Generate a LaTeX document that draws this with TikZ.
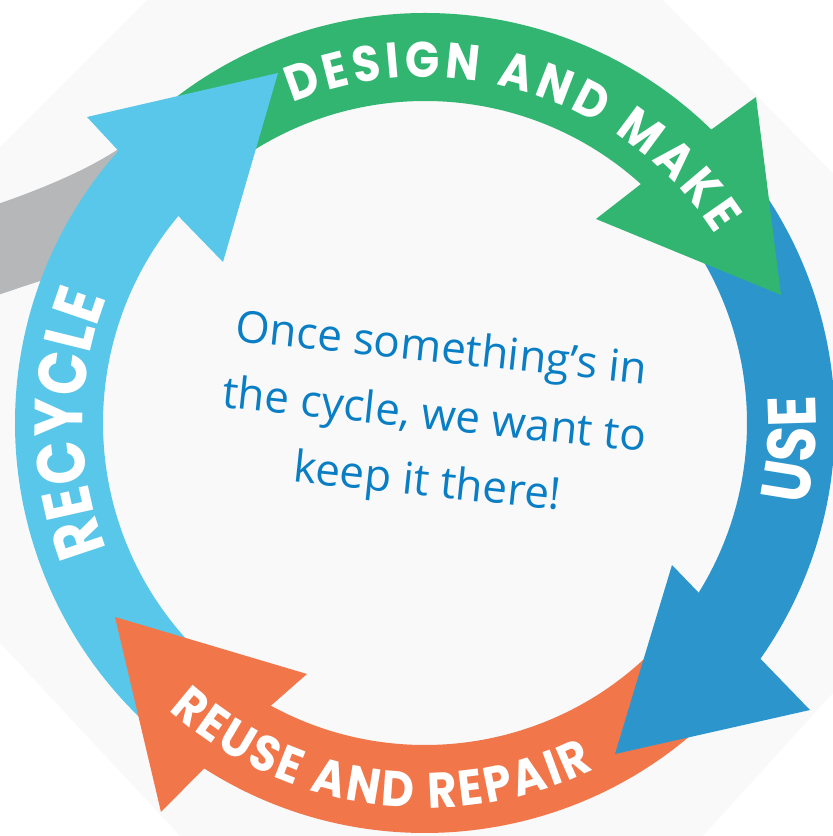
\documentclass[tikz,border=0pt]{standalone}
\usepackage{fontspec}
\newfontfamily\labfont{Poppins}[FakeStretch=0.85]
\newfontfamily\labfontw{Poppins}[FakeStretch=0.9]
\newfontfamily\msgfont{Open Sans}
\usetikzlibrary{decorations.text}
\definecolor{bgc}{HTML}{F9F9F9}
\definecolor{cgreen}{HTML}{32B571}
\definecolor{cblue}{HTML}{2C95CC}
\definecolor{clight}{HTML}{59C7EA}
\definecolor{corange}{HTML}{F1764A}
\definecolor{cgray}{HTML}{B6B7B9}
\definecolor{ctext}{HTML}{0A7EC4}
\newcommand\lblsmall{\labfontw\bfseries\fontsize{50}{52}\selectfont}
\newcommand\lblbig{\labfont\bfseries\fontsize{68}{70}\selectfont}
\tikzset{
  lab/.style={decorate, decoration={text along path, text color=white, text align=fit to path}},
}
\begin{document}
\begin{tikzpicture}[x=1pt,y=1pt]
\useasboundingbox (0,0) rectangle (833,836);
\clip (0,0) rectangle (833,836);
% background
\fill[bgc] (0,689) -- (147,836) -- (663,836) -- (833,663) -- (833,143) -- (703,0) -- (180,0) -- (0,193) -- cycle;
\coordinate (C) at (425,413);
% grey incoming band
\fill[cgray] (-5,631) .. controls (30,643) and (80,662) .. (117,686) -- (150,711) -- (130,574) -- (50,558) .. controls (30,552) and (10,545) .. (-5,540) -- cycle;
% bodies
\fill[cgreen] ([shift={(134:410)}]C) arc[start angle=134,end angle=43.7,radius=410] -- ([shift={(45.9:322)}]C) arc[start angle=45.9,end angle=134,radius=322] -- cycle;
\fill[cblue] ([shift={(40:410)}]C) arc[start angle=40,end angle=-37.1,radius=410] -- ([shift={(-33.8:322)}]C) arc[start angle=-33.8,end angle=40,radius=322] -- cycle;
\fill[corange] ([shift={(-39:410)}]C) arc[start angle=-39,end angle=-124.6,radius=410] -- ([shift={(-120.6:322)}]C) arc[start angle=-120.6,end angle=-39,radius=322] -- cycle;
\fill[clight] ([shift={(234:410)}]C) arc[start angle=234,end angle=136.4,radius=410] -- ([shift={(138:322)}]C) arc[start angle=138,end angle=234,radius=322] -- cycle;
% heads
\fill[cgreen] ([shift={(45.7:410)}]C) -- (756,739) -- (781,541) -- (596,617) -- ([shift={(47.9:322)}]C) -- cycle;
\fill[cblue] ([shift={(-35.1:410)}]C) -- (810,126) -- (615,82) -- (672,271) -- ([shift={(-31.8:322)}]C) -- cycle;
\fill[corange] ([shift={(-122.6:410)}]C) -- (161,24) -- (115,219) -- (307,162) -- ([shift={(-118.6:322)}]C) -- cycle;
\fill[clight] ([shift={(138.4:410)}]C) -- (87,719) -- (278,763) -- (223,574) -- ([shift={(140:322)}]C) -- cycle;
% labels
\path[lab, decoration={text={|\lblsmall|DESIGN AND MAKE}}] ([shift={(112.5:346)}]C) arc[start angle=112.5,end angle=33,radius=346];
\path[lab, decoration={text={|\lblbig|USE}}] ([shift={(-12.2:391)}]C) arc[start angle=-12.2,end angle=4.1,radius=391];
\path[lab, decoration={text={|\lblsmall|REUSE AND REPAIR}}] ([shift={(228.2:385)}]C) arc[start angle=228.2,end angle=296,radius=385];
\path[lab, decoration={text={|\lblbig|RECYCLE}}] ([shift={(201.7:342)}]C) arc[start angle=201.7,end angle=158.5,radius=342];
% message
\node[rotate=-6, align=center, text=ctext, font=\msgfont\fontsize{44}{67}\selectfont] (msg) at (434,418) {Once something’s in\\the cycle, we want to\\keep it there!};
\end{tikzpicture}
\end{document}
